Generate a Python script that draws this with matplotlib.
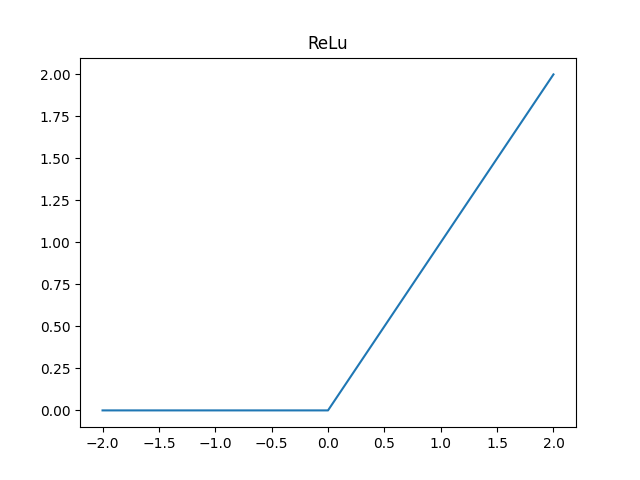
import matplotlib
matplotlib.use('Agg')
import matplotlib.pyplot as plt

# corner points
x = [-2.0, 0.0, 2.0]
y = [0.0, 0.0, 2.0]

if __name__ == '__main__':
    plt.figure(figsize=(6.4, 4.8), dpi=100)
    plt.plot(x, y)
    plt.title('ReLu')
    plt.savefig('out.png')
